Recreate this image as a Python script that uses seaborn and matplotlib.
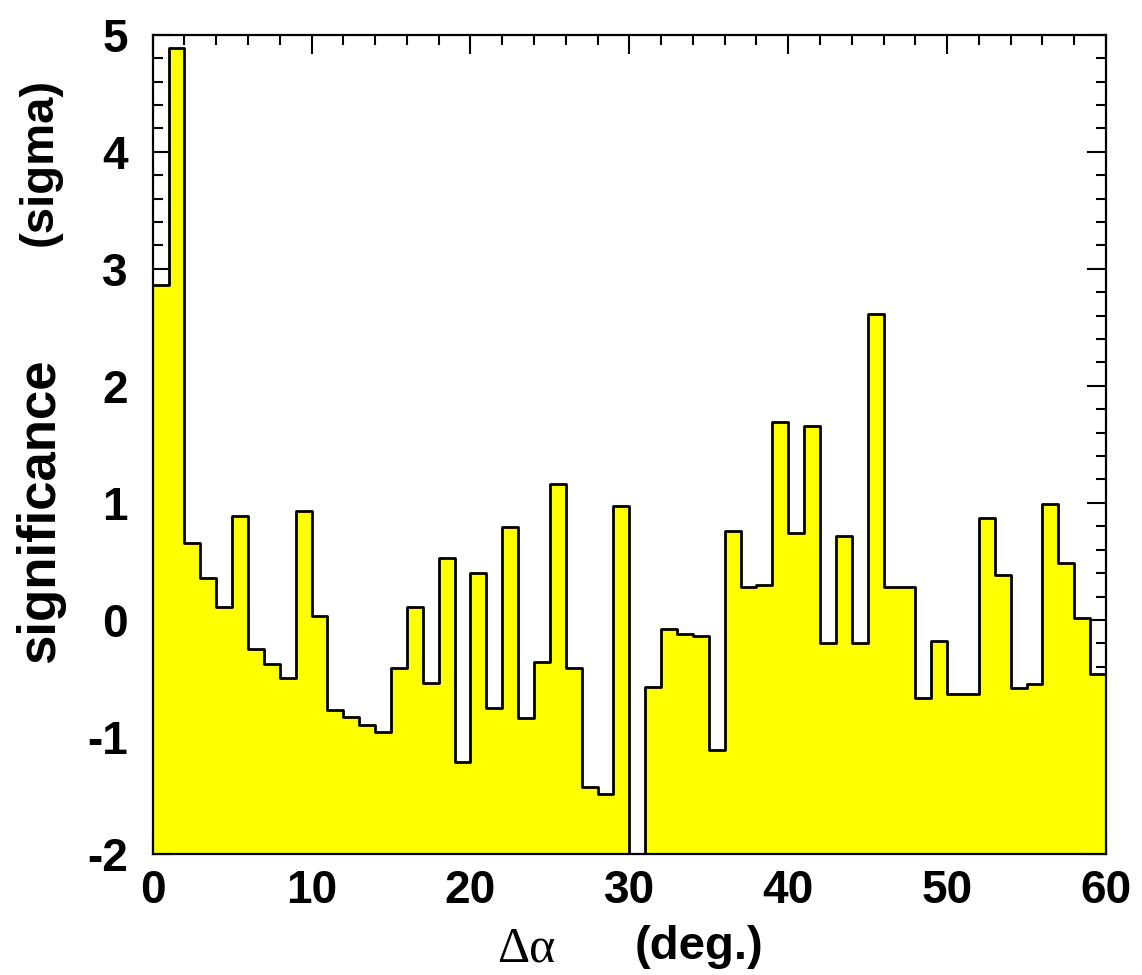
import numpy as np
import pandas as pd
import seaborn as sns
import matplotlib.pyplot as plt
from matplotlib.ticker import MultipleLocator

# bin edges in degrees (1 deg bins from 0 to 60)
bin_edges = np.arange(0, 61, 1)

# significance per bin (sigma)
significance = [2.86, 4.89, 0.66, 0.36, 0.11, 0.89, -0.25, -0.38, -0.50, 0.93,
                0.03, -0.77, -0.83, -0.90, -0.96, -0.41, 0.11, -0.54, 0.53, -1.21,
                0.40, -0.75, 0.79, -0.84, -0.36, 1.16, -0.41, -1.43, -1.49, 0.97,
                -2.00, -0.57, -0.08, -0.12, -0.14, -1.11, 0.76, 0.28, 0.30, 1.69,
                0.74, 1.66, -0.20, 0.72, -0.20, 2.61, 0.28, 0.28, -0.67, -0.18,
                -0.63, -0.63, 0.87, 0.38, -0.58, -0.55, 0.99, 0.49, 0.02, -0.46]

x_ticks = [0, 10, 20, 30, 40, 50, 60]
y_ticks = [-2, -1, 0, 1, 2, 3, 4, 5]

sns.set_theme(style="ticks")
plt.rcParams['font.family'] = ['Liberation Sans', 'DejaVu Sans']
plt.rcParams['font.weight'] = 'bold'
plt.rcParams['text.color'] = 'black'
plt.rcParams['axes.unicode_minus'] = False

# repeat the last value so the step reaches the right edge
df = pd.DataFrame({"alpha": bin_edges, "sig": significance + [significance[-1]]})

fig = plt.figure(figsize=(11.42, 9.75), dpi=100)
ax = fig.add_axes([0.1337, 0.1241, 0.8348, 0.8403])

ax.fill_between(df["alpha"], df["sig"], -2, step="post", color="#ffff00", lw=0)
sns.lineplot(data=df, x="alpha", y="sig", drawstyle="steps-post",
             color="black", lw=2, ax=ax)

ax.set_xlim(0, 60)
ax.set_ylim(-2, 5)
ax.set(xlabel="", ylabel="")
ax.set_xticks(x_ticks)
ax.set_yticks(y_ticks)
ax.xaxis.set_minor_locator(MultipleLocator(2))
ax.yaxis.set_minor_locator(MultipleLocator(0.2))

for sp in ax.spines.values():
    sp.set_linewidth(1.6)
    sp.set_color("black")

ax.tick_params(which="both", direction="in", top=True, right=True,
               width=1.5, color="black", labelcolor="black", labelsize=33)
ax.tick_params(which="major", length=14)
ax.tick_params(which="minor", length=7.5)
ax.tick_params(axis="x", pad=11)
ax.tick_params(axis="y", pad=18)

# axis titles
fig.text(0.4606, 0.014, "\u0394\u03b1", family=["Liberation Serif", "DejaVu Serif"],
         weight="normal", fontsize=36, ha="center", va="baseline")
fig.text(0.612, 0.016, "(deg.)", fontsize=34, ha="center", va="baseline")
fig.text(0.035, 0.476, "significance", fontsize=38, rotation=90,
         ha="center", va="center")
fig.text(0.035, 0.834, "(sigma)", fontsize=34, rotation=90,
         ha="center", va="center")

plt.savefig("out.png", dpi=100)
